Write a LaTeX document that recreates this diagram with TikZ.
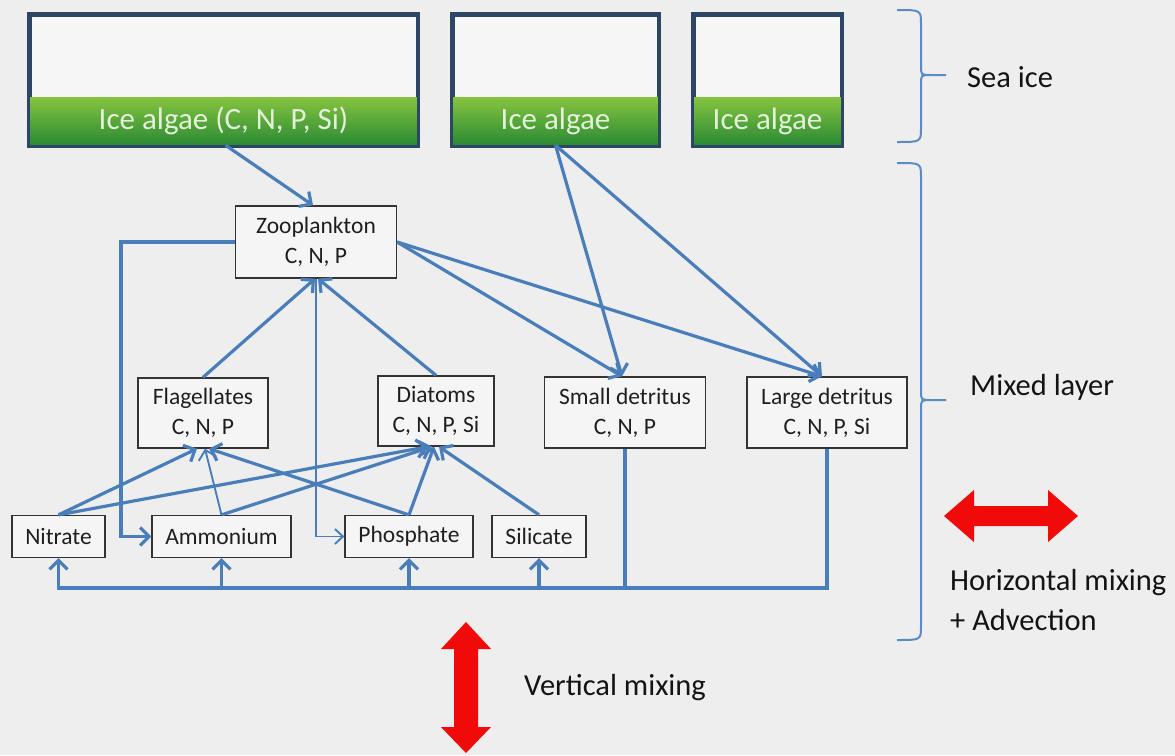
\documentclass[tikz,border=0pt]{standalone}
\usepackage{fontspec}
\setmainfont{Carlito}
\usetikzlibrary{arrows.meta}

\definecolor{bg}{HTML}{EEEEEE}
\definecolor{flow}{HTML}{4A7EBB}
\definecolor{bracecol}{HTML}{5B8BC6}
\definecolor{framecol}{HTML}{2E4666}
\definecolor{algtop}{HTML}{86C440}
\definecolor{algbot}{HTML}{2A8A34}
\definecolor{algtext}{HTML}{E4F1DA}
\definecolor{poolcol}{HTML}{333333}
\definecolor{mixred}{HTML}{F00A0A}

\tikzset{
  poolbox/.style={draw=poolcol, line width=1.3pt, fill=white!40!bg, rectangle,
    inner sep=0pt, align=center, text=black!88,
    font=\fontsize{23.5}{30}\selectfont},
  iceframe/.style={draw=framecol, line width=3pt, fill=white!50!bg, rectangle, inner sep=0pt},
  algband/.style={rectangle, inner sep=0pt, top color=algtop, bottom color=algbot,
    text=algtext, font=\fontsize{31}{34}\selectfont},
  conn/.style={draw=flow, line width=3.2pt},
  thinconn/.style={draw=flow, line width=1.9pt},
  tip/.style={-{Straight Barb[length=9pt,width=18pt]}},
  thintip/.style={-{Straight Barb[length=8pt,width=15pt]}},
  bracestyle/.style={draw=bracecol, line width=2pt},
  label/.style={anchor=west, inner sep=0pt, text=black!92, font=\fontsize{30.5}{34}\selectfont},
  mixarrow/.style={fill=mixred, draw=none}
}

\begin{document}
\begin{tikzpicture}[x=1pt,y=-1pt]
  \useasboundingbox[fill=bg] (0,0) rectangle (1175,755);

  % sea-ice slabs with their algae layer
  \node[iceframe, minimum width=387pt, minimum height=130pt] (ice1) at (223.5,80) {};
  \node[algband, minimum width=387pt, minimum height=48pt] (alg1) at (223.5,121) {Ice algae (C, N, P, Si)};
  \draw[draw=framecol, line width=3pt] (ice1.south west) rectangle (ice1.north east);

  \node[iceframe, minimum width=205pt, minimum height=130pt] (ice2) at (555.5,80) {};
  \node[algband, minimum width=205pt, minimum height=48pt] (alg2) at (555.5,121) {Ice algae};
  \draw[draw=framecol, line width=3pt] (ice2.south west) rectangle (ice2.north east);

  \node[iceframe, minimum width=147pt, minimum height=130pt] (ice3) at (767.5,80) {};
  \node[algband, minimum width=147pt, minimum height=48pt] (alg3) at (767.5,121) {Ice algae};
  \draw[draw=framecol, line width=3pt] (ice3.south west) rectangle (ice3.north east);

  % model compartments
  \node[poolbox, minimum width=161pt, minimum height=72pt] (zoo) at (316,242) {Zooplankton\\C, N, P};
  \node[poolbox, minimum width=130pt, minimum height=70pt] (flag) at (203,413) {Flagellates\\C, N, P};
  \node[poolbox, minimum width=116pt, minimum height=70pt] (diat) at (436,411) {Diatoms\\C, N, P, Si};
  \node[poolbox, minimum width=161pt, minimum height=71pt] (sdet) at (625,412.5) {Small detritus\\C, N, P};
  \node[poolbox, minimum width=160pt, minimum height=71pt] (ldet) at (827,412.5) {Large detritus\\C, N, P, Si};

  \node[poolbox, minimum width=93pt, minimum height=42pt] (nit) at (58.5,536.5) {Nitrate};
  \node[poolbox, minimum width=139pt, minimum height=42pt] (amm) at (221.5,536.5) {Ammonium};
  \node[poolbox, minimum width=128pt, minimum height=42pt] (pho) at (409,536.5) {Phosphate};
  \node[poolbox, minimum width=94pt, minimum height=42pt] (sil) at (539,536.5) {Silicate};

  % nutrient uptake
  \draw[conn,tip] (nit.north) -- ([xshift=-6pt]flag.south);
  \draw[conn,tip] (nit.north) -- ([xshift=-8pt]diat.south);
  \draw[thinconn,tip] (amm.north) -- ([xshift=2pt]flag.south);
  \draw[conn,tip] (amm.north) -- ([xshift=-4pt]diat.south);
  \draw[conn,tip] (pho.north) -- ([xshift=6pt]flag.south);
  \draw[conn,tip] (pho.north) -- ([xshift=-2pt]diat.south);
  \draw[conn,tip] (sil.north) -- ([xshift=3pt]diat.south);

  % grazing
  \draw[conn,tip] (flag.north) -- ([xshift=-1pt]zoo.south);
  \draw[conn,tip] (diat.north) -- ([xshift=2pt]zoo.south);
  \draw[conn,tip] ([xshift=2pt]alg1.south) -- ([xshift=-3pt]zoo.north);

  % excretion
  \coordinate (zleft) at (121,242);
  \draw[conn,tip] (zoo.west) -- (zleft) |- (amm.west);
  \draw[thinconn,thintip] (zoo.south) |- (pho.west);

  % detritus production
  \draw[conn,tip] (zoo.east) -- ([xshift=-3pt]sdet.north);
  \draw[conn,tip] (zoo.east) -- ([xshift=-5pt]ldet.north);
  \draw[conn,tip] (alg2.south) -- ([xshift=-3pt]sdet.north);
  \draw[conn,tip] (alg2.south) -- ([xshift=-5pt]ldet.north);

  % remineralisation back to nutrients
  \coordinate (base) at (0,588);
  \draw[conn,tip] (ldet.south) -- (ldet.south |- base) -| (nit.south);
  \draw[conn] (sdet.south) -- (sdet.south |- base);
  \draw[conn,tip] (amm.south |- base) -- (amm.south);
  \draw[conn,tip] (pho.south |- base) -- (pho.south);
  \draw[conn,tip] (sil.south |- base) -- (sil.south);

  % braces marking the domains
  \draw[bracestyle] (897,10) .. controls (921,10) .. (921,24) -- (921,66)
    .. controls (921,75) .. (931,75) .. controls (921,75) .. (921,84) -- (921,128)
    .. controls (921,142) .. (897,142)
    (931,75) -- (946,75);
  \draw[bracestyle] (897,163) .. controls (921,163) .. (921,177) -- (921,391)
    .. controls (921,400) .. (931,400) .. controls (921,400) .. (921,409) -- (921,626)
    .. controls (921,640) .. (897,640)
    (931,400) -- (946,400);

  \node[label] (seaice) at (967,77) {Sea ice};
  \node[label] (mixed) at (970,387) {Mixed layer};
  \node[label] (hmix) at (950,583) {Horizontal mixing};
  \node[label] (adv) at (950,620) {+ Advection};
  \node[label] (vmix) at (524,688) {Vertical mixing};

  % exchange arrows
  \fill[mixarrow] (944,516) -- (974,490) -- (974,506) -- (1048,506) -- (1048,490)
    -- (1078,516) -- (1048,542) -- (1048,526) -- (974,526) -- (974,542) -- cycle;
  \fill[mixarrow] (466,622) -- (491,649) -- (478,649) -- (478,727) -- (491,727)
    -- (466,753) -- (441,727) -- (454,727) -- (454,649) -- (441,649) -- cycle;
\end{tikzpicture}
\end{document}
